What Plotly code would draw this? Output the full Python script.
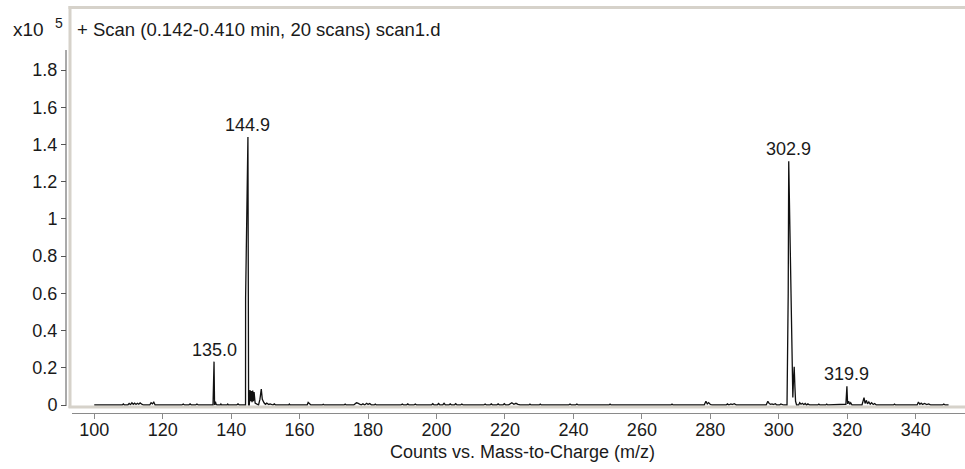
import plotly.graph_objects as go

# Profile spectrum: m/z values and intensities (counts x10^5)
mz = [
    100.0, 108.2, 108.5, 108.8, 109.8, 110.2, 110.6, 111.0, 111.4, 111.8, 112.2,
    112.6, 113.0, 113.4, 114.0, 114.4, 116.2, 116.6, 117.0, 117.4, 117.8,
    125.6, 126.0, 126.4, 127.6, 128.0, 128.4, 129.6, 130.0, 130.4,
    134.7, 134.75, 135.0, 135.15, 135.4, 135.6, 135.9, 136.8, 137.0, 137.2,
    138.8, 139.0, 139.2, 141.6, 142.0, 142.4, 144.2, 144.22, 144.9, 145.1,
    145.3, 145.5, 145.7, 145.9, 146.1, 146.3, 146.5, 146.7, 147.0, 148.0,
    148.4, 148.8, 149.1, 149.6, 150.0, 150.4, 151.0, 151.4, 152.2, 152.6, 153.0,
    156.8, 157.0, 157.2, 162.2, 162.5, 162.9, 163.3, 166.6, 166.9, 167.2,
    168.8, 169.1, 169.4, 170.8, 171.1, 171.4, 173.0, 173.3, 173.6,
    175.8, 176.2, 176.6, 177.0, 177.4, 178.0, 178.5, 179.0, 179.6, 180.0, 180.5, 181.0,
    181.8, 182.1, 182.4, 183.7, 184.0, 184.3, 189.6, 190.0, 190.4, 191.2, 191.6, 192.0,
    193.4, 193.8, 194.2, 198.5, 198.9, 199.3, 200.2, 200.6, 201.0, 201.8, 202.2, 202.6,
    203.6, 204.0, 204.4, 205.2, 205.6, 206.0, 207.0, 207.4, 207.8,
    213.8, 214.2, 214.6, 215.6, 216.0, 216.4, 217.6, 218.0, 218.4, 219.4, 219.8, 220.2,
    221.0, 221.4, 222.0, 222.6, 223.2, 223.8, 224.4, 227.0, 227.3, 227.6,
    230.0, 230.3, 230.6, 238.6, 239.0, 239.4, 240.6, 241.0, 241.4,
    250.4, 250.7, 251.0, 255.7, 256.0, 256.3, 268.5, 268.8, 269.1,
    278.2, 278.7, 279.1, 279.5, 280.0, 280.5, 284.6, 285.0, 285.4, 286.0, 286.4, 287.0, 287.6, 288.0,
    296.3, 296.8, 297.2, 297.6, 298.0, 298.4, 299.0, 299.4, 300.2, 300.6, 301.0, 301.4,
    302.4, 302.75, 302.9, 303.9, 304.1, 304.3, 304.5, 304.7, 304.9, 305.2,
    305.8, 306.1, 306.5, 306.9, 307.3, 307.7, 308.1, 308.5, 309.0, 309.5,
    311.4, 311.7, 312.0, 313.7, 314.0, 314.3, 319.5, 319.6, 319.9, 320.1, 320.4, 320.7, 321.0, 321.4,
    324.3, 324.6, 324.9, 325.2, 325.6, 325.9, 326.3, 326.7, 327.1, 327.6, 328.0, 328.5, 329.0,
    333.5, 333.8, 334.1, 340.4, 340.8, 341.2, 341.6, 342.0, 342.6, 343.2, 343.8, 344.4, 345.0,
    347.8, 348.2, 348.6, 349.6,
]
intensity = [
    0.0, 0.0, 0.006, 0.0, 0.0, 0.008, 0.002, 0.012, 0.004, 0.010, 0.003,
    0.009, 0.004, 0.011, 0.003, 0.0, 0.0, 0.012, 0.006, 0.015, 0.0,
    0.0, 0.005, 0.0, 0.0, 0.006, 0.0, 0.0, 0.005, 0.0,
    0.0, 0.10, 0.233, 0.0, 0.018, 0.004, 0.0, 0.0, 0.006, 0.0,
    0.0, 0.005, 0.0, 0.0, 0.006, 0.0, 0.0, 0.575, 1.44, 0.0,
    0.0, 0.08, 0.02, 0.075, 0.015, 0.078, 0.02, 0.07, 0.01, 0.0,
    0.03, 0.085, 0.03, 0.012, 0.004, 0.01, 0.003, 0.006, 0.0, 0.006, 0.0,
    0.0, 0.005, 0.0, 0.0, 0.014, 0.004, 0.0, 0.0, 0.004, 0.0,
    0.0, 0.004, 0.0, 0.0, 0.004, 0.0, 0.0, 0.005, 0.0,
    0.0, 0.004, 0.012, 0.010, 0.004, 0.0, 0.007, 0.0, 0.009, 0.003, 0.008, 0.0,
    0.0, 0.005, 0.0, 0.0, 0.004, 0.0, 0.0, 0.005, 0.0, 0.0, 0.006, 0.0,
    0.0, 0.005, 0.0, 0.0, 0.007, 0.0, 0.0, 0.008, 0.0, 0.0, 0.009, 0.0,
    0.0, 0.006, 0.0, 0.0, 0.007, 0.0, 0.0, 0.005, 0.0,
    0.0, 0.005, 0.0, 0.0, 0.006, 0.0, 0.0, 0.006, 0.0, 0.0, 0.007, 0.0,
    0.0, 0.006, 0.012, 0.004, 0.009, 0.003, 0.0, 0.0, 0.005, 0.0,
    0.0, 0.005, 0.0, 0.0, 0.005, 0.0, 0.0, 0.005, 0.0,
    0.0, 0.005, 0.0, 0.0, 0.004, 0.0, 0.0, 0.005, 0.0,
    0.0, 0.02, 0.006, 0.013, 0.003, 0.0, 0.0, 0.006, 0.0, 0.006, 0.002, 0.007, 0.0, 0.0,
    0.0, 0.02, 0.008, 0.004, 0.006, 0.002, 0.007, 0.0, 0.0, 0.006, 0.004, 0.0,
    0.0, 0.6, 1.31, 0.12, 0.04, 0.14, 0.205, 0.10, 0.02, 0.0,
    0.0, 0.012, 0.004, 0.009, 0.002, 0.008, 0.0, 0.006, 0.0, 0.0,
    0.0, 0.005, 0.0, 0.0, 0.005, 0.0, 0.0, 0.004, 0.10, 0.006, 0.02, 0.004, 0.012, 0.0,
    0.0, 0.015, 0.04, 0.008, 0.025, 0.006, 0.016, 0.004, 0.012, 0.003, 0.008, 0.0, 0.0,
    0.0, 0.005, 0.0, 0.0, 0.016, 0.004, 0.010, 0.003, 0.008, 0.002, 0.006, 0.0, 0.0,
    0.0, 0.005, 0.0, 0.0,
]

# Labelled peaks
peak_mz = [135.0, 144.9, 302.9, 319.9]
peak_int = [0.233, 1.44, 1.31, 0.10]
peak_text = ["135.0", "144.9", "302.9", "319.9"]

x_ticks = [100, 120, 140, 160, 180, 200, 220, 240, 260, 280, 300, 320, 340]
y_ticks = [0, 0.2, 0.4, 0.6, 0.8, 1, 1.2, 1.4, 1.6, 1.8]
y_tick_text = ["0", "0.2", "0.4", "0.6", "0.8", "1", "1.2", "1.4", "1.6", "1.8"]

W, H = 965, 469


def px(x):
    return x / W


def py(y):
    return (H - y) / H


FONT = "Liberation Sans, Arial, sans-serif"
TXT = "#1a1a1a"
FRAME = "#d6d2ca"
FS = 18

fig = go.Figure()
fig.add_trace(go.Scatter(
    x=mz, y=intensity, mode="lines",
    line=dict(color="#111111", width=1.3),
    hoverinfo="x+y", showlegend=False,
))

for m, v, t in zip(peak_mz, peak_int, peak_text):
    fig.add_annotation(
        x=m, y=v, text=t, showarrow=False, xanchor="center", yanchor="bottom",
        yshift=0, font=dict(family=FONT, size=FS, color=TXT),
    )

fig.update_layout(
    width=W, height=H, autosize=False,
    margin=dict(l=0, r=0, t=0, b=0, pad=0, autoexpand=False),
    paper_bgcolor="white", plot_bgcolor="white",
    font=dict(family=FONT, size=FS, color=TXT),
    xaxis=dict(
        domain=[px(72), 1.0], range=[93.5, 354.4],
        anchor="free", position=py(413), automargin=False,
        showline=True, linecolor="#8a8a8a", linewidth=1,
        ticks="outside", ticklen=5, tickcolor="#8a8a8a",
        ticklabelstandoff=-5,
        tickvals=x_ticks, ticktext=[str(v) for v in x_ticks],
        tickfont=dict(family=FONT, size=FS, color=TXT),
        showgrid=False, zeroline=False, fixedrange=True,
    ),
    yaxis=dict(
        domain=[py(406), py(9)], range=[-1 / 186.1, 396 / 186.1],
        anchor="free", position=px(66), automargin=False,
        showline=False,
        ticks="outside", ticklen=5, tickcolor="#555555",
        tickvals=y_ticks, ticktext=y_tick_text,
        tickfont=dict(family=FONT, size=FS, color=TXT),
        showgrid=False, zeroline=False, fixedrange=True,
    ),
)

# Plot frame (light grey border on left, top and bottom)
fig.add_shape(type="line", xref="paper", yref="paper",
              x0=px(70), x1=px(70), y0=py(408), y1=py(6),
              line=dict(color=FRAME, width=3))
fig.add_shape(type="line", xref="paper", yref="paper",
              x0=px(68.5), x1=1.0, y0=py(7.5), y1=py(7.5),
              line=dict(color=FRAME, width=3))
fig.add_shape(type="line", xref="paper", yref="paper",
              x0=px(68.5), x1=1.0, y0=py(407), y1=py(407),
              line=dict(color=FRAME, width=3))
# Intensity axis line
fig.add_shape(type="line", xref="paper", yref="paper",
              x0=px(66), x1=px(66), y0=py(406), y1=py(50),
              line=dict(color="#555555", width=1))

# Intensity multiplier
fig.add_annotation(
    xref="paper", yref="paper", x=px(11), y=py(30), xanchor="left", yanchor="middle",
    text="x10", showarrow=False, font=dict(family=FONT, size=19, color=TXT),
)
fig.add_annotation(
    xref="paper", yref="paper", x=px(53), y=py(23), xanchor="left", yanchor="middle",
    text="5", showarrow=False, font=dict(family=FONT, size=14, color=TXT),
)
fig.add_annotation(
    xref="paper", yref="paper", x=px(75), y=py(29), xanchor="left", yanchor="middle",
    text="+ Scan (0.142-0.410 min, 20 scans) scan1.d", showarrow=False,
    font=dict(family=FONT, size=18.5, color=TXT),
)
fig.add_annotation(
    x=225, xref="x", yref="paper", y=py(452), xanchor="center", yanchor="middle",
    text="Counts vs. Mass-to-Charge (m/z)", showarrow=False,
    font=dict(family=FONT, size=FS, color=TXT),
)

fig.write_html("out.html", config={"responsive": False})
